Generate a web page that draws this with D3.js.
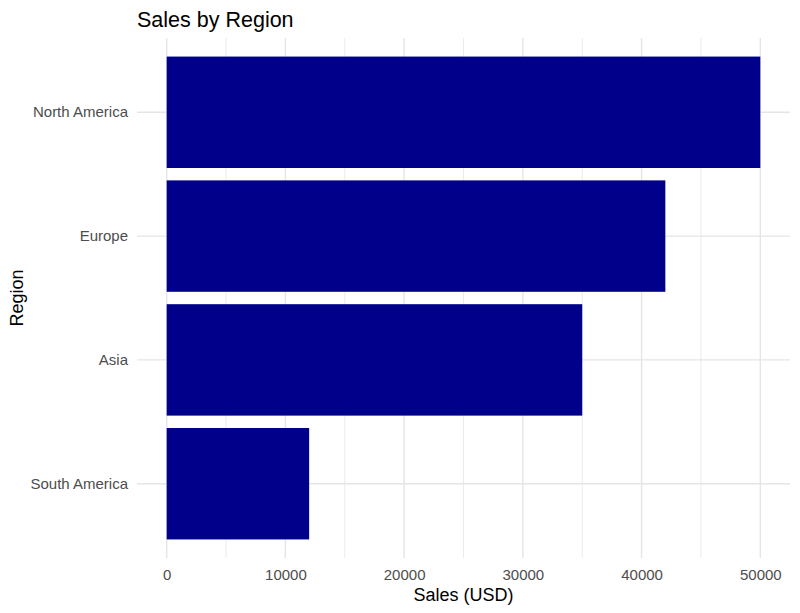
<!DOCTYPE html>
<html>
<head>
<meta charset="utf-8">
<script src="https://d3js.org/d3.v7.min.js"></script>
<style>
  body { margin: 0; background: #fff; }
  text { font-family: "Liberation Sans", Arial, sans-serif; }
</style>
</head>
<body>
<svg id="chart" width="800" height="613"></svg>
<script>
// data
const regions = ["North America", "Europe", "Asia", "South America"];
const sales = [50000, 42000, 35000, 12000];
const xTicks = [0, 10000, 20000, 30000, 40000, 50000];
const xMinor = [5000, 15000, 25000, 35000, 45000];

const svg = d3.select("#chart");
const margin = {top: 38, right: 10, bottom: 55, left: 137};
const width = 800 - margin.left - margin.right,
      height = 613 - margin.top - margin.bottom;

const g = svg.append("g").attr("transform", `translate(${margin.left},${margin.top})`);

// ggplot style expansion: 5% either side on continuous axis
const x = d3.scaleLinear().domain([-2500, 52500]).range([0, width]);
// discrete axis, bars 0.9 wide, 0.6 unit expansion from the outer centres
const y = d3.scaleBand().domain(regions).range([0, height]).paddingInner(0.1).paddingOuter(0.15);

// minor grid
g.selectAll(".minor")
  .data(xMinor)
  .join("line")
    .attr("x1", d => x(d)).attr("x2", d => x(d))
    .attr("y1", 0).attr("y2", height)
    .attr("stroke", "#ebebeb")
    .attr("stroke-width", 1);

// major grid
g.selectAll(".major")
  .data(xTicks)
  .join("line")
    .attr("x1", d => x(d)).attr("x2", d => x(d))
    .attr("y1", 0).attr("y2", height)
    .attr("stroke", "#e5e5e5")
    .attr("stroke-width", 1.4);

g.selectAll(".hgrid")
  .data(regions)
  .join("line")
    .attr("x1", 0).attr("x2", width)
    .attr("y1", d => y(d) + y.bandwidth() / 2)
    .attr("y2", d => y(d) + y.bandwidth() / 2)
    .attr("stroke", "#e5e5e5")
    .attr("stroke-width", 1.4);

// bars
g.selectAll("rect")
  .data(regions)
  .join("rect")
    .attr("x", x(0))
    .attr("y", d => y(d))
    .attr("width", (d, i) => x(sales[i]) - x(0))
    .attr("height", y.bandwidth())
    .attr("fill", "#00008b");

// x axis labels
const xAxis = g.append("g")
  .attr("transform", `translate(0,${height})`)
  .call(d3.axisBottom(x).tickValues(xTicks).tickFormat(d3.format("d")).tickSize(0).tickPadding(11));
xAxis.select(".domain").remove();
xAxis.selectAll("text").attr("fill", "#4d4d4d").style("font-size", "15px");

// y axis labels
const yAxis = g.append("g")
  .call(d3.axisLeft(y).tickSize(0).tickPadding(9));
yAxis.select(".domain").remove();
yAxis.selectAll("text").attr("fill", "#4d4d4d").style("font-size", "15px");

// titles
svg.append("text")
  .attr("x", margin.left)
  .attr("y", 27)
  .style("font-size", "21.5px")
  .attr("fill", "#000")
  .text("Sales by Region");

svg.append("text")
  .attr("x", margin.left + width / 2)
  .attr("y", 601)
  .attr("text-anchor", "middle")
  .style("font-size", "18px")
  .attr("fill", "#000")
  .text("Sales (USD)");

svg.append("text")
  .attr("transform", `translate(23,${margin.top + height / 2}) rotate(-90)`)
  .attr("text-anchor", "middle")
  .style("font-size", "18px")
  .attr("fill", "#000")
  .text("Region");
</script>
</body>
</html>
